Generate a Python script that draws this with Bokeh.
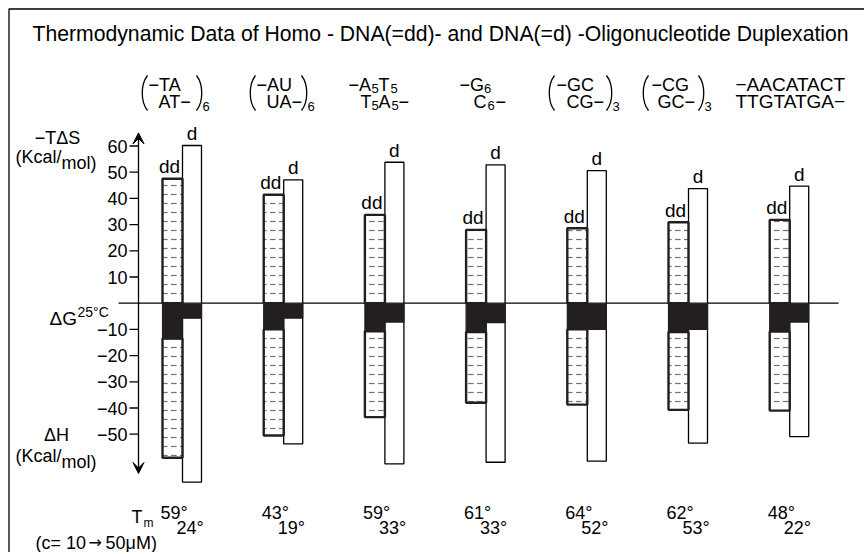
from bokeh.plotting import figure
from bokeh.models import Range1d, Arrow, VeeHead
from bokeh.core.properties import value
from bokeh.embed import file_html
from bokeh.resources import INLINE

# ---------------- data ----------------
groups = [0, 1, 2, 3, 4, 5, 6]
dd_ts = [47.5, 41.4, 33.7, 28.0, 28.6, 30.9, 31.8]      # -TdS (dd)
dd_g = [-13.5, -10.0, -10.7, -11.0, -10.0, -11.0, -10.8]  # dG (dd)
dd_h = [-59.0, -50.5, -43.5, -38.0, -38.7, -40.7, -41.0]  # dH (dd)
d_ts = [60.2, 47.1, 53.8, 52.8, 50.6, 43.7, 44.7]        # -TdS (d)
d_g = [-5.7, -5.7, -7.2, -7.4, -10.0, -10.0, -7.2]       # dG (d)
d_h = [-68.3, -53.7, -61.3, -60.7, -60.3, -53.4, -50.9]   # dH (d)
tm_dd = ["59°", "43°", "59°", "61°", "64°", "62°", "48°"]
tm_d = ["24°", "19°", "33°", "33°", "52°", "53°", "22°"]
yticks = [60, 50, 40, 30, 20, 10, -10, -20, -30, -40, -50]
ytick_labels = ["60", "50", "40", "30", "20", "10", "−10", "−20", "−30", "−40", "−50"]
title = "Thermodynamic Data of Homo - DNA(=dd)- and DNA(=d) -Oligonucleotide Duplexation"

FONT = value("Liberation Sans")
W, H = 864, 552

# pixel -> data helpers (layout only)
X0, DX = 182.0, 101.2
Y0, SY = 302.7, 2.62
def gx(px):
    return (px - X0) / DX
def gy(py):
    return (Y0 - py) / SY

p = figure(width=W, height=H, output_backend="svg", toolbar_location=None,
           x_range=Range1d(gx(0), gx(W)), y_range=Range1d(gy(H), gy(0)),
           x_axis_location=None, y_axis_location=None, min_border=0)
p.grid.visible = False
p.outline_line_color = None
p.background_fill_color = "white"
p.border_fill_color = "white"

# border (left and top)
p.line(x=[gx(8.5), gx(8.5), gx(W)], y=[gy(H), gy(8.5), gy(8.5)], line_color="black", line_width=1.3)

# zero line
p.line(x=[gx(118), gx(838)], y=[0, 0], line_color="black", line_width=1.3)

WDD = 20 / DX
WD = 19 / DX
dd_left = [g - WDD for g in groups]
dd_right = [g for g in groups]
d_left = [g for g in groups]
d_right = [g + WD for g in groups]
zeros = [0] * len(groups)

# d bars (white)
p.quad(left=d_left, right=d_right, top=d_ts, bottom=d_h, fill_color="white",
       line_color="black", line_width=1.3)
# dd bars (stippled)
hatch = dict(hatch_pattern="horizontal_dash", hatch_color="black", hatch_scale=9,
             hatch_weight=1.2, hatch_alpha=0.55)
p.quad(left=dd_left, right=dd_right, top=dd_ts, bottom=zeros, fill_color="white",
       line_color="#231f20", line_width=2.4, **hatch)
p.quad(left=dd_left, right=dd_right, top=dd_g, bottom=dd_h, fill_color="white",
       line_color="#231f20", line_width=2.4, **hatch)
# dG (black)
p.quad(left=dd_left, right=dd_right, top=zeros, bottom=dd_g, fill_color="#231f20",
       line_color="#231f20", line_width=1.2)
p.quad(left=d_left, right=d_right, top=zeros, bottom=d_g, fill_color="#231f20",
       line_color="#231f20", line_width=1.2)

# dd / d labels
p.text(x=[g - WDD / 2 - 3 / DX for g in groups], y=[v + 0.6 for v in dd_ts], text=["dd"] * 7,
       text_font=FONT, text_font_size="19px", text_align="center", text_baseline="bottom")
p.text(x=[g + WD / 2 for g in groups], y=[v + 0.6 for v in d_ts], text=["d"] * 7,
       text_font=FONT, text_font_size="19px", text_align="center", text_baseline="bottom")

# axis: double arrow
p.add_layout(Arrow(x_start=gx(138), y_start=-65, x_end=gx(138), y_end=65,
                   line_color="black", line_width=1.3,
                   start=VeeHead(size=11, fill_color="black", line_color="black"),
                   end=VeeHead(size=11, fill_color="black", line_color="black")))
p.segment(x0=[gx(129)] * len(yticks), x1=[gx(138)] * len(yticks), y0=yticks, y1=yticks,
          line_color="black", line_width=1.3)
p.text(x=[gx(127)] * len(yticks), y=yticks, text=ytick_labels, text_font=FONT,
       text_font_size="18px", text_align="right", text_baseline="middle")

def txt(x, y, s, size="18px", align="left", font=FONT):
    p.text(x=[gx(x)], y=[gy(y)], text=[s], text_font=font, text_font_size=size,
           text_align=align, text_baseline="middle")

# title
txt(32, 33, title, size="21.2px")

# left side labels
txt(57, 137, "−TΔS", align="center")
txt(15, 156, "(Kcal/")
txt(61, 162, "mol)")
txt(49, 318, "ΔG", size="19px")
txt(77, 311, "25°C", size="14px")
txt(56, 434, "ΔH", align="center")
txt(15, 455, "(Kcal/")
txt(61, 461, "mol)")
txt(131, 516, "T")
txt(143, 522, "m", size="12px")
txt(35, 542, "(c= 10")
txt(88, 542, "→", size="16px", font=value("DejaVu Sans"))
txt(105, 542, "50μM)")

# Tm values
p.text(x=[g - WDD - 2 / DX for g in groups], y=[gy(512)] * 7, text=tm_dd, text_font=FONT,
       text_font_size="18px", text_align="left", text_baseline="middle")
p.text(x=[g - WDD + 14 / DX for g in groups], y=[gy(527)] * 7, text=tm_d, text_font=FONT,
       text_font_size="18px", text_align="left", text_baseline="middle")

# sequence headers
L1, L2 = 84, 101
txt(148, L1, "−TA"); txt(158, L2, "AT−")
txt(256, L1, "−AU"); txt(266, L2, "UA−")
txt(348, L1, "−A"); txt(371, L1 + 4, "5", size="13px"); txt(378, L1, "T"); txt(390, L1 + 4, "5", size="13px")
txt(360, L2, "T"); txt(371, L2 + 4, "5", size="13px"); txt(378, L2, "A"); txt(391, L2 + 4, "5", size="13px"); txt(398, L2, "−")
txt(459, L1, "−G"); txt(483.5, L1 + 4, "6", size="13px")
txt(473, L2, "C"); txt(487, L2 + 4, "6", size="13px"); txt(495, L2, "−")
txt(556, L1, "−GC"); txt(566, L2, "CG−")
txt(651, L1, "−CG"); txt(657, L2, "GC−")
txt(735, L1, "−AACATACT", size="19px"); txt(735, L2, "TTGTATGA−", size="19px")

# brackets (thin parentheses spanning both lines)
for xl, xr, sub in [(141, 196, "6"), (249, 301, "6"), (548, 606, "3"), (642, 698, "3")]:
    p.bezier(x0=[gx(xl + 6)], y0=[gy(75)], x1=[gx(xl + 6)], y1=[gy(110)],
             cx0=[gx(xl - 1)], cy0=[gy(84)], cx1=[gx(xl - 1)], cy1=[gy(101)],
             line_color="black", line_width=1.3)
    p.bezier(x0=[gx(xr)], y0=[gy(75)], x1=[gx(xr)], y1=[gy(110)],
             cx0=[gx(xr + 7)], cy0=[gy(84)], cx1=[gx(xr + 7)], cy1=[gy(101)],
             line_color="black", line_width=1.3)
    txt(xr + 6, 106, sub, size="13px")

open("out.html", "w").write(file_html(p, INLINE))
